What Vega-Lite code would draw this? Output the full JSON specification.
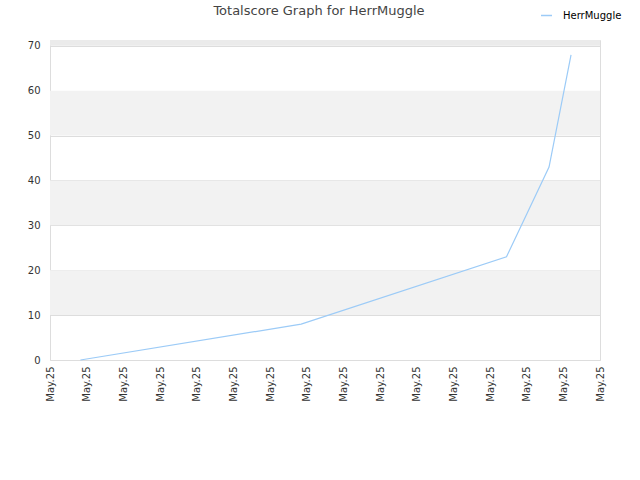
{
  "$schema": "https://vega.github.io/schema/vega-lite/v6.json",
  "autosize": "none",
  "width": 550,
  "height": 320,
  "padding": {"left": 50, "top": 40, "right": 40, "bottom": 120},
  "background": "white",
  "title": {
    "text": "Totalscore Graph for HerrMuggle",
    "fontSize": 13,
    "font": "DejaVu Sans",
    "fontWeight": "normal",
    "color": "#444444",
    "anchor": "middle",
    "frame": "group",
    "dx": -6,
    "offset": -9
  },
  "config": {
    "font": "DejaVu Sans",
    "view": {"stroke": "#dddddd", "strokeWidth": 1}
  },
  "layer": [
    {
      "data": {
        "values": [
          {"lo": 10, "hi": 20, "shade": "a"},
          {"lo": 30, "hi": 40, "shade": "a"},
          {"lo": 50, "hi": 60, "shade": "a"},
          {"lo": 70, "hi": 71.3, "shade": "b"}
        ]
      },
      "mark": {"type": "rect"},
      "encoding": {
        "y": {"field": "lo", "type": "quantitative"},
        "y2": {"field": "hi"},
        "fill": {
          "field": "shade",
          "type": "nominal",
          "scale": {"domain": ["a", "b"], "range": ["#f2f2f2", "#ebebeb"]},
          "legend": null
        }
      }
    },
    {
      "data": {
        "values": [
          {"step": 0.83, "score": 0, "player": "HerrMuggle"},
          {"step": 6.85, "score": 8, "player": "HerrMuggle"},
          {"step": 12.45, "score": 23, "player": "HerrMuggle"},
          {"step": 13.61, "score": 43, "player": "HerrMuggle"},
          {"step": 14.21, "score": 68, "player": "HerrMuggle"}
        ]
      },
      "mark": {"type": "line", "strokeWidth": 1.2},
      "encoding": {
        "x": {
          "field": "step",
          "type": "quantitative",
          "scale": {"domain": [0, 15], "nice": false, "zero": false},
          "axis": {
            "title": null,
            "values": [0, 1, 2, 3, 4, 5, 6, 7, 8, 9, 10, 11, 12, 13, 14, 15],
            "labelExpr": "'May.25'",
            "labelAngle": -90,
            "labelFontSize": 10,
            "labelColor": "#333333",
            "labelPadding": 6,
            "grid": false,
            "ticks": false,
            "domain": false,
            "labelFlush": false,
            "labelOverlap": false
          }
        },
        "y": {
          "field": "score",
          "type": "quantitative",
          "scale": {"domain": [0, 71.3], "nice": false},
          "axis": {
            "title": null,
            "values": [0, 10, 20, 30, 40, 50, 60, 70],
            "grid": true,
            "gridColor": "#dddddd",
            "ticks": false,
            "domain": false,
            "labelFontSize": 10,
            "labelColor": "#333333",
            "labelPadding": 10
          }
        },
        "stroke": {
          "field": "player",
          "type": "nominal",
          "scale": {"range": ["#9ccbf7"]},
          "legend": {
            "title": null,
            "orient": "none",
            "legendX": 490,
            "legendY": -31,
            "symbolType": "stroke",
            "symbolSize": 120,
            "symbolStrokeWidth": 1.5,
            "labelFontSize": 10,
            "labelOffset": 10,
            "labelColor": "#000000"
          }
        }
      }
    }
  ]
}
